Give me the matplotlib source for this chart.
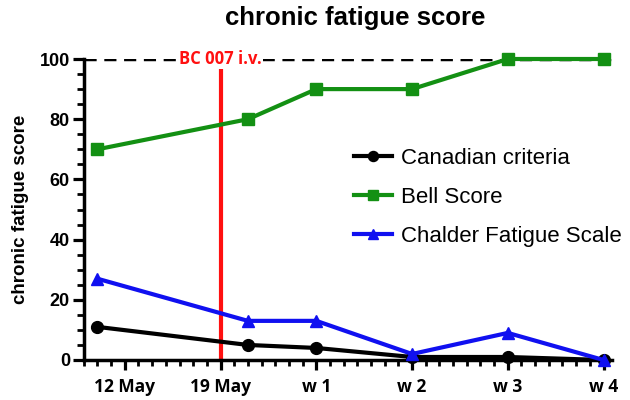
import matplotlib
matplotlib.use("Agg")
import matplotlib.pyplot as plt
from matplotlib.ticker import MultipleLocator

# days relative to 12 May
tick_days = [0, 7, 14, 21, 28, 35]
tick_labels = ["12 May", "19 May", "w 1", "w 2", "w 3", "w 4"]
x_days = [-2, 9, 14, 21, 28, 35]
canadian = [11, 5, 4, 1, 1, 0]
bell = [70, 80, 90, 90, 100, 100]
chalder = [27, 13, 13, 2, 9, 0]
infusion_day = 7

plt.rcParams["font.family"] = ["Liberation Sans", "DejaVu Sans"]
calibri_like = ["Open Sans", "DejaVu Sans"]

fig = plt.figure(figsize=(6.3, 4), dpi=100)
ax = fig.add_axes([0.133, 0.1, 0.838, 0.7525])

ax.plot([-3, 35.6], [100, 100], "k--", lw=2.5, dashes=(3.5, 2.2), zorder=1)
ax.plot([infusion_day, infusion_day], [0, 97], color="#ff1010", lw=3, zorder=2)
ax.text(infusion_day, 100, "BC 007 i.v.", color="#ff1010", fontsize=12, fontweight="bold",
        ha="center", va="center", family=calibri_like,
        bbox=dict(facecolor="white", edgecolor="none", pad=1), zorder=3)

ax.plot(x_days, canadian, "-o", color="black", lw=3, ms=8.5, label="Canadian criteria", zorder=4, clip_on=False)
ax.plot(x_days, bell, "-s", color="#139013", lw=3, ms=8.5, label="Bell Score", zorder=4, clip_on=False)
ax.plot(x_days, chalder, "-^", color="#1010f0", lw=3, ms=9, label="Chalder Fatigue Scale", zorder=4, clip_on=False)

ax.set_xlim(-3, 35.6)
ax.set_ylim(0, 100)
ax.set_xticks(tick_days)
ax.set_xticklabels(tick_labels, fontsize=12.5, fontweight="bold", family=calibri_like)
ax.xaxis.set_minor_locator(MultipleLocator(1))
ax.yaxis.set_major_locator(MultipleLocator(20))
ax.yaxis.set_minor_locator(MultipleLocator(5))
for lab in ax.get_yticklabels():
    lab.set_fontweight("bold")
    lab.set_fontsize(13)

for s in ["top", "right"]:
    ax.spines[s].set_visible(False)
for s in ["left", "bottom"]:
    ax.spines[s].set_linewidth(2.5)
ax.tick_params(axis="y", which="major", length=8, width=2.3, pad=2)
ax.tick_params(axis="y", which="minor", length=5, width=2)
ax.tick_params(axis="x", which="major", length=7, width=2.3, pad=6)
ax.tick_params(axis="x", which="minor", length=4, width=2)

ax.set_ylabel("chronic fatigue score", fontsize=13.5, fontweight="bold", labelpad=8)
fig.text(0.563, 0.955, "chronic fatigue score", ha="center", va="center",
         fontsize=18.5, fontweight="bold")

leg = ax.legend(loc="center left", bbox_to_anchor=(0.512, 0.54), frameon=False,
                fontsize=16, handlelength=1.7, handletextpad=0.4, labelspacing=0.8,
                markerscale=0.85, borderpad=0, borderaxespad=0)

fig.savefig("out.png", dpi=100)
